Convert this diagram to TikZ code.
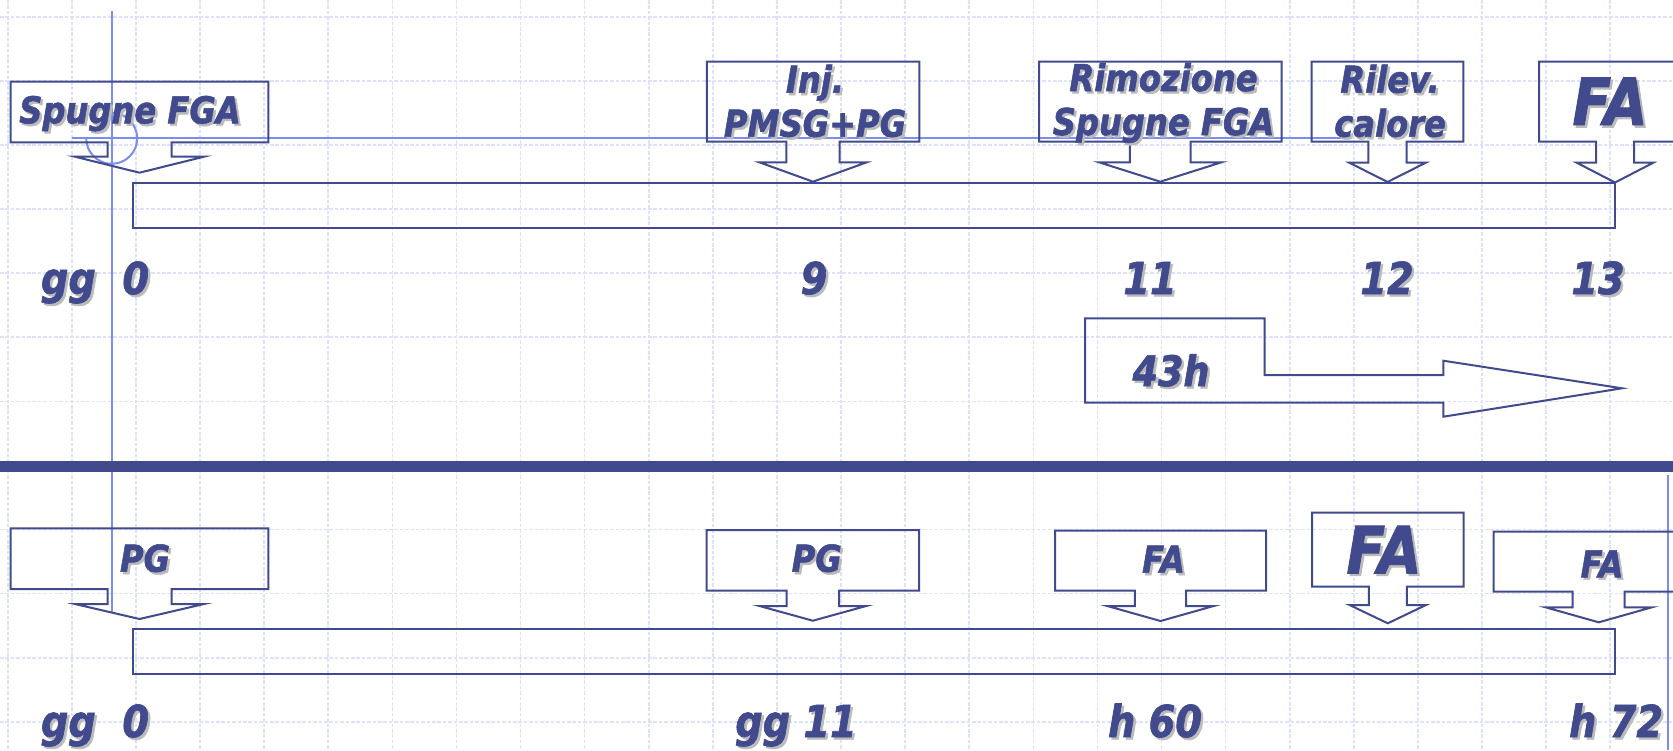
\documentclass[tikz,border=0pt]{standalone}
\usepackage{fontspec}
\newfontfamily\slidefont{DejaVu Sans}[FakeStretch=0.87,BoldItalicFeatures={FakeBold=1.5}]
\usepackage{tikz}
\usetikzlibrary{positioning}
\definecolor{navy}{HTML}{404A8C}
\definecolor{guide}{HTML}{7B8CF2}
\definecolor{gridc}{HTML}{DCE2FA}
\definecolor{shadowc}{HTML}{BBBBBB}

% down-arrow callout: name, left, top, right, bottom, stem half, head half, neck y, tip y
\newcommand\callout[9]{%
  \pgfmathsetmacro\calx{(#2+#4)/2}%
  \draw[outl] (#2,#3) -- (#4,#3) -- (#4,#5) -- (\calx+#6,#5) -- (\calx+#6,#8)
    -- (\calx+#7,#8) -- (\calx,#9) -- (\calx-#7,#8) -- (\calx-#6,#8)
    -- (\calx-#6,#5) -- (#2,#5) -- cycle;
  \coordinate (#1) at (\calx,#9);}

% text with grey drop shadow: name, style, position, text
\newcommand\shtext[4]{%
  \node[#2,text=shadowc,xshift=1.2pt,yshift=-1.2pt] at (#3) {#4};
  \node[#2] (#1) at (#3) {#4};}

\begin{document}
\begin{tikzpicture}[
  x=0.5pt,y=-0.5pt,
  outl/.style={draw=navy,line width=1pt,line join=miter},
  lbl/.style={font=\slidefont\bfseries\itshape\fontsize{18.5}{22}\selectfont,
              text=navy,anchor=base,align=center,inner sep=0pt},
  num/.style={lbl,font=\slidefont\bfseries\itshape\fontsize{22}{26}\selectfont},
  big/.style={lbl,font=\slidefont\bfseries\itshape\fontsize{32.5}{38}\selectfont},
  gridl/.style={draw=gridc,line width=0.8pt,dash pattern=on 1.8pt off 0.9pt},
  guidel/.style={draw=guide,line width=1pt}
]
\clip (0,0) rectangle (1673,750);
\fill[white] (0,0) rectangle (1673,750);

% background grid
\foreach \i in {0,...,26}
  \draw[gridl] (7.7+64.1*\i,0) -- (7.7+64.1*\i,750);
\foreach \j in {0,...,11}
  \draw[gridl] (0,16.7+64.1*\j) -- (1673,16.7+64.1*\j);

% guide lines
\draw[guidel] (111.7,11) -- (111.7,612);
\draw[guidel] (71.7,138.3) -- (1342,138.3);
\draw[guidel] (86.2,138.3) arc[start angle=180,end angle=-90,radius=25.5];
\draw[guidel] (1667.7,475) -- (1667.7,750);

% separator
\fill[navy] (0,460.7) rectangle (1673,472.3);

% time bars
\draw[outl] (132.7,182.5) rectangle (1615,227.5);
\draw[outl] (132.7,628.5) rectangle (1615,674);

% top callouts
\callout{spug}{10.7}{81.7}{268.3}{142.3}{32}{64.5}{156.7}{172.7}
\callout{inj}{706.8}{61.7}{919.3}{141.7}{26.6}{53.7}{162.3}{181.7}
\callout{rimoz}{1039}{61.7}{1281.5}{141.7}{30.3}{61.2}{162.3}{181.7}
\callout{rilev}{1311.7}{61.7}{1463.3}{141.7}{19.2}{38.2}{162.7}{182}
\callout{fatop}{1539}{61.7}{1691}{141.7}{19}{38.3}{162.7}{182.5}

% bottom callouts
\callout{pga}{10.7}{528.3}{268.3}{589}{32}{64.5}{604}{619}
\callout{pgb}{706.7}{530}{919}{590.7}{26.3}{53.3}{606}{620.7}
\callout{fah}{1055}{530.7}{1266}{590.7}{25.7}{53.2}{606}{621}
\callout{fabig}{1312}{512.7}{1463.5}{586.7}{19}{38.2}{605}{623.3}
\callout{fac}{1493.6}{531.7}{1703.8}{591.7}{26}{53.2}{607.3}{622.3}

% 43h arrow
\draw[outl] (1085,318.3) -- (1264.5,318.3) -- (1264.5,375) -- (1443.3,375)
  -- (1443.3,360.7) -- (1622,388.3) -- (1443.3,416.7) -- (1443.3,402.7)
  -- (1085,402.7) -- cycle;

% top labels
\shtext{tspug}{lbl}{130,123.3}{Spugne FGA}
\shtext{tinj}{lbl}{815,136.7}{Inj.\\PMSG+PG}
\shtext{trimoz}{lbl}{1163.5,135}{Rimozione\\Spugne FGA}
\shtext{trilev}{lbl}{1390,136.7}{Rilev.\\calore}
\shtext{tfatop}{big}{1610,125}{FA}

\shtext{d0}{num}{95,294}{gg\ \ 0}
\shtext{d9}{num}{814,294}{9}
\shtext{d11}{num}{1150,294}{11}
\shtext{d12}{num}{1387,294}{12}
\shtext{d13}{num}{1598,294}{13}
\shtext{t43}{lbl,font=\slidefont\bfseries\itshape\fontsize{21}{25}\selectfont}{1171,386}{43h}

% bottom labels
\shtext{tpga}{lbl}{145,571.7}{PG}
\shtext{tpgb}{lbl}{816.7,571.7}{PG}
\shtext{tfah}{lbl}{1163.5,572.7}{FA}
\shtext{tfabig}{big}{1384,573.3}{FA}
\shtext{tfac}{lbl}{1602,577.3}{FA}

\shtext{e0}{num}{95,737}{gg\ \ 0}
\shtext{e11}{num}{796,737}{gg 11}
\shtext{e60}{num}{1155,737}{h 60}
\shtext{e72}{num}{1616,737}{h 72}
\end{tikzpicture}
\end{document}
